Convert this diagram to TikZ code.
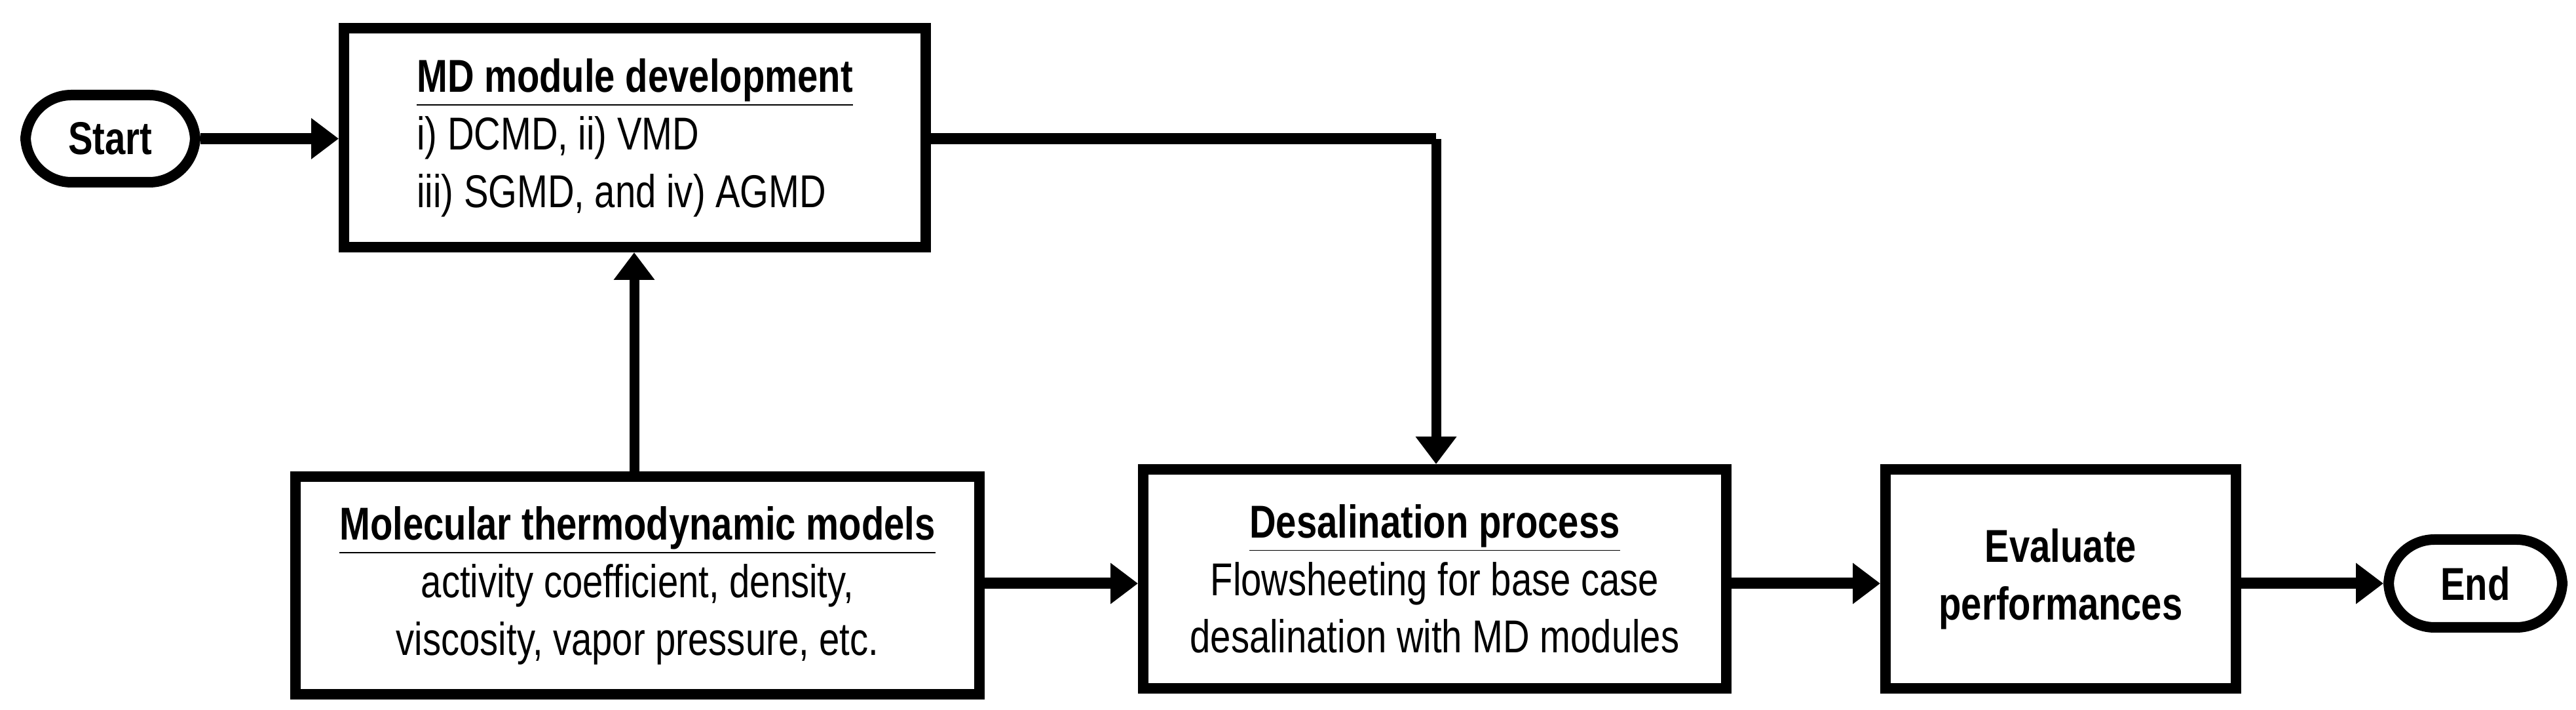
\documentclass[tikz,border=0pt]{standalone}
\usepackage{fontspec}
\setmainfont{Liberation Sans}[FakeStretch=0.8]
\usetikzlibrary{arrows.meta,calc,positioning}

\tikzset{
    box/.style={draw,line width=0.16cm,inner sep=0pt,align=center,font=\fontsize{20}{25}\selectfont},
    term/.style={draw,line width=0.16cm,rounded corners=0.7cm,inner sep=0pt,font=\fontsize{20}{25}\selectfont\bfseries},
    flow/.style={line width=0.17cm,-{Triangle[length=0.42cm,width=0.6cm]}},
}

\begin{document}
\begin{tikzpicture}
    \useasboundingbox (0,0) rectangle (39.32,10.83);

    \node[term,minimum width=2.59cm,minimum height=1.33cm] (start) at (1.685,8.715) {Start};
    \node[box,minimum width=8.88cm,minimum height=3.34cm,align=left] (md) at (9.69,8.73)
        {\textbf{\underline{MD module development}}\\ i) DCMD, ii) VMD\\ iii) SGMD, and iv) AGMD};
    \node[box,minimum width=10.44cm,minimum height=3.32cm] (mol) at (9.73,1.90)
        {\textbf{\underline{Molecular thermodynamic models}}\\ activity coefficient, density,\\ viscosity, vapor pressure, etc.};
    \node[box,minimum width=8.9cm,minimum height=3.34cm] (desal) at (21.9,2.0)
        {\textbf{\underline{Desalination process}}\\ Flowsheeting for base case\\ desalination with MD modules};
    \node[box,minimum width=5.35cm,minimum height=3.34cm,font=\fontsize{20}{25}\selectfont\bfseries] (eval) at (31.455,2.0)
        {Evaluate\\ performances};
    \node[term,minimum width=2.65cm,minimum height=1.34cm] (end) at (37.785,1.93) {End};

    \coordinate (corner) at (21.92,8.71);

    \draw[flow] (start) -- (start -| md.west);
    \draw[flow,line width=0.15cm] (mol.north -| 9.68,0) -- (md.south -| 9.68,0);
    \draw[flow,-] (md.east |- corner) -- (corner);
    \draw[flow,line width=0.15cm] (corner) -- (corner |- desal.north);
    \draw[flow] (mol.east |- 0,1.93) -- (desal.west |- 0,1.93);
    \draw[flow] (desal.east |- 0,1.93) -- (eval.west |- 0,1.93);
    \draw[flow] (eval.east |- end) -- (end);
\end{tikzpicture}
\end{document}
